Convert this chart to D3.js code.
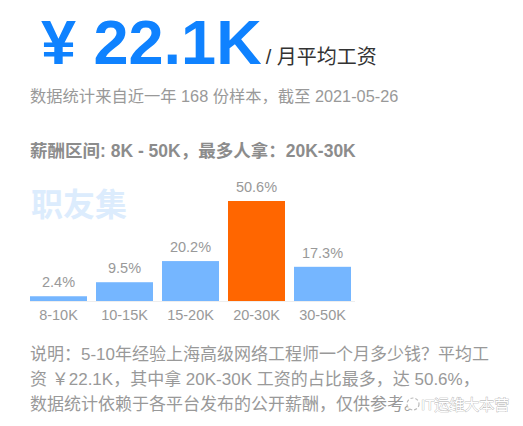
<!DOCTYPE html>
<html>
<head>
<meta charset="utf-8">
<script src="https://cdn.jsdelivr.net/npm/d3@7"></script>
<style>
  body { margin: 0; background: #fff; }
  svg { font-family: "Liberation Sans", Arial, "Noto Sans CJK SC", sans-serif; }
</style>
</head>
<body>
<div id="chart"></div>
<script>
// salary ranges and share of samples (%)
var categories = ["8-10K", "10-15K", "15-20K", "20-30K", "30-50K"];
var shares = [2.4, 9.5, 20.2, 50.6, 17.3];
var topCategory = "20-30K";

var descLines = [
    "说明：5-10年经验上海高级网络工程师一个月多少钱？平均工",
    "资 ￥22.1K，其中拿 20K-30K 工资的占比最多，达 50.6%，",
    "数据统计依赖于各平台发布的公开薪酬，仅供参考。"
];

var width = 523, height = 426;
var svg = d3.select("#chart").append("svg")
    .attr("width", width)
    .attr("height", height);

// big headline
var head = svg.append("text").attr("x", 41).attr("y", 64);
head.append("tspan")
    .attr("font-size", 63).attr("font-weight", "bold").attr("fill", "#0f82ff")
    .text("¥ 22.1K");
head.append("tspan")
    .attr("dx", 4)
    .attr("font-size", 20).attr("fill", "#333")
    .text("/ 月平均工资");

svg.append("text")
    .attr("x", 30).attr("y", 102)
    .attr("font-size", 16.3).attr("fill", "#999")
    .text("数据统计来自近一年 168 份样本，截至 2021-05-26");

svg.append("text")
    .attr("x", 30).attr("y", 157)
    .attr("font-size", 17.5).attr("font-weight", "bold").attr("fill", "#8c8c8c")
    .text("薪酬区间: 8K - 50K，最多人拿：20K-30K");

// watermark
svg.append("text")
    .attr("x", 31).attr("y", 216)
    .attr("font-size", 32).attr("font-weight", "bold").attr("fill", "#dcecfd")
    .text("职友集");

// bars
var x = d3.scaleBand()
    .domain(categories)
    .range([30, 351])
    .paddingInner(9 / 66)
    .paddingOuter(0);

var y = d3.scaleLinear()
    .domain([0, d3.max(shares)])
    .range([301, 201]);

var data = categories.map(function(c, i) { return {cat: c, val: shares[i]}; });

svg.append("g")
    .selectAll("rect")
    .data(data)
    .enter().append("rect")
        .attr("x", function(d) { return x(d.cat); })
        .attr("y", function(d) { return y(d.val); })
        .attr("width", x.bandwidth())
        .attr("height", function(d) { return y(0) - y(d.val); })
        .attr("fill", function(d) { return d.cat === topCategory ? "#ff6600" : "#75b6ff"; });

svg.append("g")
    .selectAll("text")
    .data(data)
    .enter().append("text")
        .attr("x", function(d) { return x(d.cat) + x.bandwidth() / 2; })
        .attr("y", function(d) { return y(d.val) - 9; })
        .attr("text-anchor", "middle")
        .attr("font-size", 14.5)
        .attr("fill", "#999")
        .text(function(d) { return d.val + "%"; });

// x axis
var axis = svg.append("g")
    .attr("transform", "translate(0,301.5)")
    .call(d3.axisBottom(x).tickSize(0).tickPadding(8));
axis.select(".domain").attr("stroke", "#eee").attr("stroke-width", 1)
    .attr("d", "M30,0H355");
axis.selectAll("text")
    .attr("font-family", "Liberation Sans, Arial, sans-serif")
    .attr("font-size", 14.5)
    .attr("fill", "#999");

// description
svg.append("g")
    .selectAll("text")
    .data(descLines)
    .enter().append("text")
        .attr("x", 30)
        .attr("y", function(d, i) { return 360 + i * 25; })
        .attr("font-size", 17)
        .attr("fill", "#999")
        .text(function(d) { return d; });

// account watermark overlay
var wm = svg.append("g");
wm.append("circle").attr("cx", 413).attr("cy", 404).attr("r", 6)
    .attr("fill", "#fff").attr("stroke", "#bbb").attr("stroke-width", 1.2)
    .attr("stroke-dasharray", "3,2");
wm.append("text")
    .attr("x", 421).attr("y", 410)
    .attr("font-size", 15)
    .attr("fill", "#fff")
    .attr("stroke", "#aaa").attr("stroke-width", 0.7)
    .attr("paint-order", "stroke")
    .text("IT运维大本营");
</script>
</body>
</html>
